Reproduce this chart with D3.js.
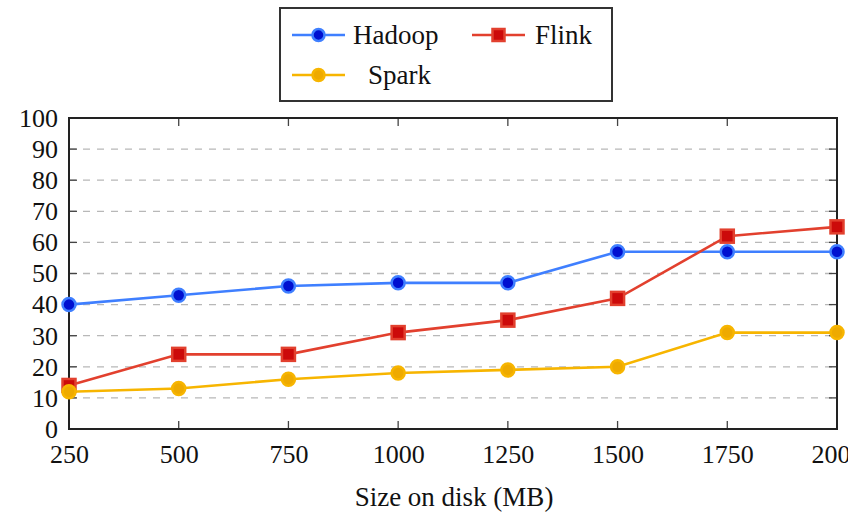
<!DOCTYPE html>
<html>
<head>
<meta charset="utf-8">
<script src="https://cdn.jsdelivr.net/npm/d3@7"></script>
<style>
  body { margin: 0; background: #fff; }
  svg text { font-family: "Liberation Serif", "Times New Roman", serif; }
</style>
</head>
<body>
<div id="chart"></div>
<script>
const sizes = [250, 500, 750, 1000, 1250, 1500, 1750, 2000];
const hadoop = [40, 43, 46, 47, 47, 57, 57, 57];
const flink = [14, 24, 24, 31, 35, 42, 62, 65];
const spark = [12, 13, 16, 18, 19, 20, 31, 31];
const yTicks = [0, 10, 20, 30, 40, 50, 60, 70, 80, 90, 100];

const series = [
  { name: 'Hadoop', values: hadoop, line: '#3f7fff', fill: '#0010d0', shape: 'circle' },
  { name: 'Flink', values: flink, line: '#e2402e', fill: '#cc0a0a', shape: 'square' },
  { name: 'Spark', values: spark, line: '#f7b500', fill: '#eeaa00', shape: 'circle' }
];

const W = 848, H = 518;
const margin = { top: 118, right: 11, bottom: 89, left: 69 };
const width = W - margin.left - margin.right;
const height = H - margin.top - margin.bottom;

const svg = d3.select('#chart').append('svg')
  .attr('width', W)
  .attr('height', H);

const g = svg.append('g')
  .attr('transform', `translate(${margin.left},${margin.top})`);

const x = d3.scaleLinear().domain([250, 2000]).range([0, width]);
const y = d3.scaleLinear().domain([0, 100]).range([height, 0]);

// dashed grid
g.append('g')
  .selectAll('line')
  .data(yTicks.filter(t => t > 0 && t < 100))
  .enter().append('line')
  .attr('x1', 0).attr('x2', width)
  .attr('y1', d => y(d)).attr('y2', d => y(d))
  .attr('stroke', '#b8b8b8')
  .attr('stroke-width', 1.3)
  .attr('stroke-dasharray', '7,7');

// inward ticks on all four sides
const tickLen = 8;
const tickStyle = sel => sel.attr('stroke', '#444').attr('stroke-width', 1.3);
g.append('g').selectAll('line').data(sizes).enter().append('line')
  .attr('x1', d => x(d)).attr('x2', d => x(d))
  .attr('y1', height).attr('y2', height - tickLen).call(tickStyle);
g.append('g').selectAll('line').data(sizes).enter().append('line')
  .attr('x1', d => x(d)).attr('x2', d => x(d))
  .attr('y1', 0).attr('y2', tickLen).call(tickStyle);
g.append('g').selectAll('line').data(yTicks).enter().append('line')
  .attr('x1', 0).attr('x2', tickLen)
  .attr('y1', d => y(d)).attr('y2', d => y(d)).call(tickStyle);
g.append('g').selectAll('line').data(yTicks).enter().append('line')
  .attr('x1', width).attr('x2', width - tickLen)
  .attr('y1', d => y(d)).attr('y2', d => y(d)).call(tickStyle);

// frame
g.append('rect')
  .attr('width', width).attr('height', height)
  .attr('fill', 'none')
  .attr('stroke', '#222')
  .attr('stroke-width', 2);

// tick labels
const xAxis = g.append('g')
  .attr('transform', `translate(0,${height})`)
  .call(d3.axisBottom(x).tickValues(sizes).tickFormat(d3.format('d')).tickSize(0).tickPadding(16));
xAxis.select('.domain').remove();
xAxis.attr('font-family', null);
xAxis.selectAll('text').attr('font-size', 26).attr('fill', '#111');

const yAxis = g.append('g')
  .call(d3.axisLeft(y).tickValues(yTicks).tickSize(0).tickPadding(11));
yAxis.select('.domain').remove();
yAxis.attr('font-family', null);
yAxis.selectAll('text').attr('font-size', 26).attr('fill', '#111');

// axis title
svg.append('text')
  .attr('x', margin.left + width / 2 + 1)
  .attr('y', 506)
  .attr('text-anchor', 'middle')
  .attr('font-size', 27)
  .attr('fill', '#111')
  .text('Size on disk (MB)');

// lines
const line = d3.line().x((d, i) => x(sizes[i])).y(d => y(d));

function drawMarker(sel, s, r) {
  if (s.shape === 'square') {
    sel.append('rect')
      .attr('x', -r).attr('y', -r)
      .attr('width', 2 * r).attr('height', 2 * r)
      .attr('fill', s.fill)
      .attr('stroke', s.line)
      .attr('stroke-width', 2.5);
  } else {
    sel.append('circle')
      .attr('r', r)
      .attr('fill', s.fill)
      .attr('stroke', s.line)
      .attr('stroke-width', 2.5);
  }
}

series.forEach(s => {
  g.append('path')
    .datum(s.values)
    .attr('d', line)
    .attr('fill', 'none')
    .attr('stroke', s.line)
    .attr('stroke-width', 2.6);
  g.append('g').selectAll('g')
    .data(s.values)
    .enter().append('g')
    .attr('transform', (d, i) => `translate(${x(sizes[i])},${y(d)})`)
    .each(function () { drawMarker(d3.select(this), s, 6.5); });
});

// legend
const legend = svg.append('g');
legend.append('rect')
  .attr('x', 280).attr('y', 8)
  .attr('width', 332).attr('height', 93)
  .attr('fill', '#fff')
  .attr('stroke', '#333')
  .attr('stroke-width', 2);

const legendPos = [
  { lx: 292, ty: 35, tx: 353 },
  { lx: 472, ty: 35, tx: 535 },
  { lx: 292, ty: 75, tx: 368 }
];
series.forEach((s, i) => {
  const p = legendPos[i];
  const item = legend.append('g');
  item.append('line')
    .attr('x1', p.lx).attr('x2', p.lx + 53)
    .attr('y1', p.ty).attr('y2', p.ty)
    .attr('stroke', s.line).attr('stroke-width', 2.6);
  drawMarker(item.append('g').attr('transform', `translate(${p.lx + 26.5},${p.ty})`), s, 6);
  item.append('text')
    .attr('x', p.tx).attr('y', p.ty + 9)
    .attr('font-size', 27)
    .attr('fill', '#111')
    .text(s.name);
});
</script>
</body>
</html>
